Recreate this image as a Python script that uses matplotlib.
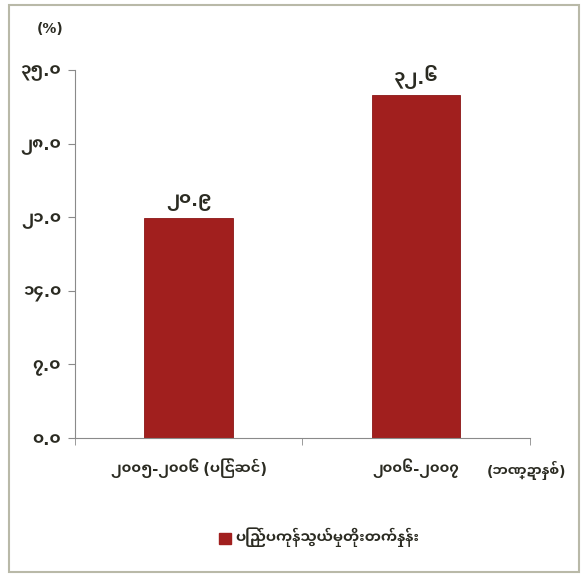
import os
import matplotlib
matplotlib.use('Agg')
import matplotlib.pyplot as plt
from matplotlib import font_manager
from matplotlib.patches import Rectangle
from matplotlib.ticker import FixedLocator, FuncFormatter

# data
categories = ['၂၀၀၅-၂၀၀၆ (ပြင်ဆင်)', '၂၀၀၆-၂၀၀၇']
values = [20.9, 32.6]
value_labels = ['၂၀.၉', '၃၂.၆']
y_ticks = [0, 7, 14, 21, 28, 35]
unit_label = '(%)'
x_unit_label = '(ဘဏ္ဍာနှစ်)'
series_name = 'ပြည်ပကုန်သွယ်မှုတိုးတက်နှုန်း'

MM_DIGITS = str.maketrans('0123456789', '၀၁၂၃၄၅၆၇၈၉')

# pick a bold Myanmar font, DejaVu fills in '-' and '.'
preferred = ['NotoSansMyanmarUI-Bold.ttf', 'NotoSansMyanmar-Bold.ttf',
             'NotoSansMyanmarUI-SemiBold.ttf', 'NotoSansMyanmarUI-Black.ttf',
             'Khyay-Regular.ttf']
paths = {os.path.basename(p): p for p in font_manager.findSystemFonts()}
mm_name = None
for fn in preferred:
    if fn in paths:
        font_manager.fontManager.addfont(paths[fn])
        mm_name = font_manager.FontProperties(fname=paths[fn]).get_name()
        break
plt.rcParams['font.family'] = ([mm_name] if mm_name else []) + ['DejaVu Sans']
plt.rcParams['font.weight'] = 'bold'

bar_color = '#A11F1E'
text_color = '#2b2b22'
axis_color = '#8a8a8a'

fig = plt.figure(figsize=(5.86, 5.78), dpi=100)
fig.patch.set_facecolor('white')
fig.add_artist(Rectangle((0.016, 0.01), 0.972, 0.982, transform=fig.transFigure,
                         fill=False, edgecolor='#b9b9a8', linewidth=1.5))

ax = fig.add_axes([0.128, 0.2422, 0.776, 0.6367])
x = range(len(values))
ax.bar(x, values, width=0.39, color=bar_color, edgecolor='#8c1616', linewidth=0.6)

ax.set_xlim(-0.5, len(values) - 0.5)
ax.set_ylim(y_ticks[0], y_ticks[-1])
ax.set_yticks(y_ticks)
ax.yaxis.set_major_formatter(FuncFormatter(lambda v, p: f'{v:.1f}'.translate(MM_DIGITS)))
ax.tick_params(axis='y', direction='out', length=5, color=axis_color,
               labelsize=12, labelcolor=text_color, pad=5)

ax.set_xticks(list(x))
ax.set_xticklabels(categories, fontsize=10.5, color=text_color)
ax.tick_params(axis='x', which='major', length=0, pad=15)
ax.xaxis.set_minor_locator(FixedLocator([-0.5, 0.5, 1.5]))
ax.tick_params(axis='x', which='minor', direction='out', length=5, color=axis_color)

for s in ['top', 'right']:
    ax.spines[s].set_visible(False)
for s in ['left', 'bottom']:
    ax.spines[s].set_color(axis_color)

for xi, v, t in zip(x, values, value_labels):
    ax.annotate(t, (xi, v), xytext=(0, 5), textcoords='offset points',
                ha='center', va='bottom', fontsize=13, color=text_color)

fig.text(0.063, 0.95, unit_label, fontsize=10, color=text_color,
         ha='left', va='center')
fig.text(0.898, 0.186, x_unit_label, fontsize=10, color=text_color,
         ha='center', va='center')

fig.legend([Rectangle((0, 0), 1, 1, color=bar_color)], [series_name],
           loc='center', bbox_to_anchor=(0.545, 0.07), frameon=False,
           handlelength=0.8, handleheight=0.8, handletextpad=0.3,
           prop={'size': 10.5, 'weight': 'bold'}, labelcolor=text_color)

fig.savefig('out.png', dpi=100, facecolor=fig.get_facecolor())
